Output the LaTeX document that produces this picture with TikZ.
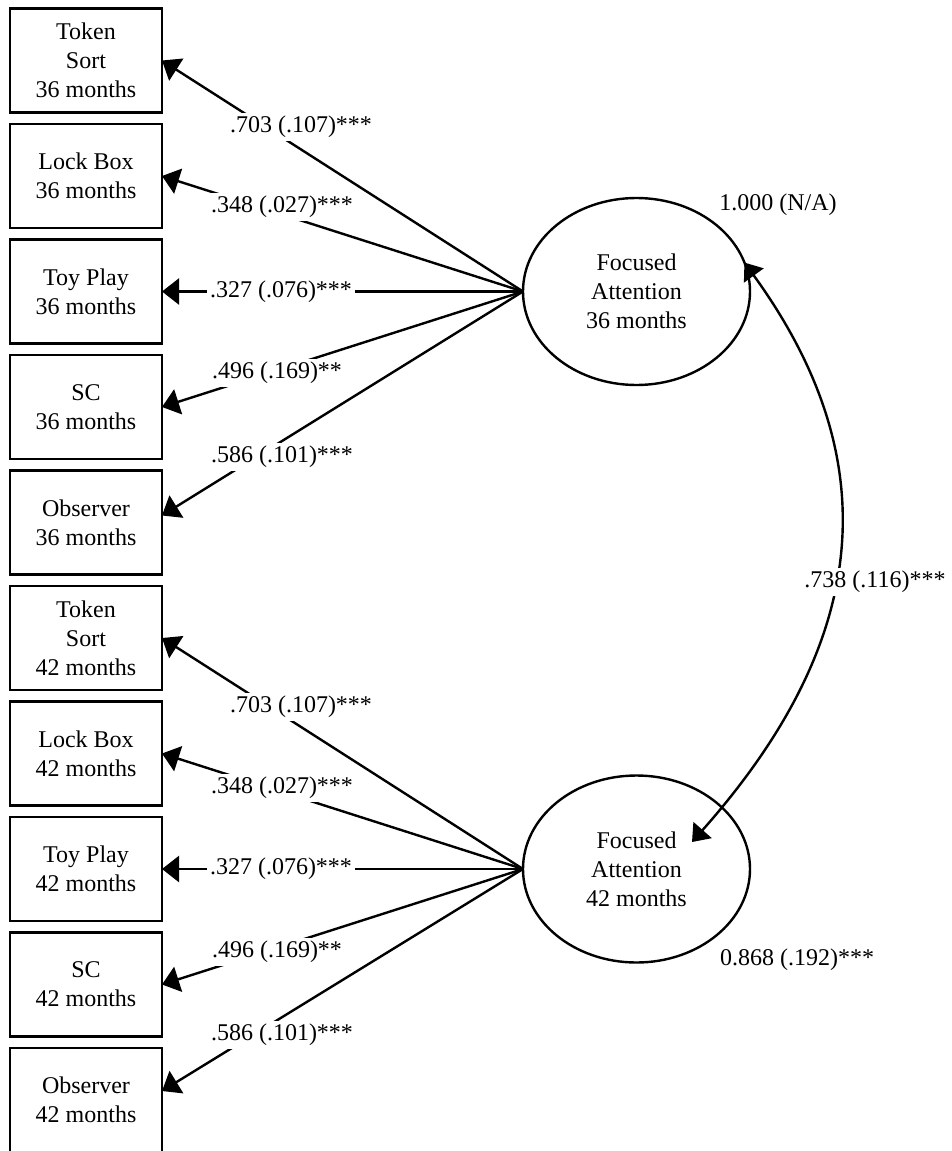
\documentclass[tikz,border=0pt]{standalone}
\usepackage{fontspec}
\setmainfont{Liberation Serif}
\usetikzlibrary{arrows.meta,shapes.geometric}

\begin{document}
\begin{tikzpicture}[x=0.5pt,y=-0.5pt,line width=1.2pt,
  font=\fontsize{12}{14.5}\selectfont,
  obs/.style={draw,rectangle,minimum width=76pt,minimum height=52pt,align=center,inner sep=0pt,outer sep=0pt},
  lat/.style={draw,ellipse,minimum width=113.5pt,minimum height=93.5pt,align=center,inner sep=0pt,outer sep=0pt},
  lbl/.style={fill=white,inner sep=1.5pt},
  load/.style={-{Triangle[length=8.5pt,width=13pt]}},
  cov/.style={{Triangle[length=8pt,width=12pt]}-{Triangle[length=8pt,width=12pt]}}]
  \useasboundingbox (0,0) rectangle (952,1151);
  \node[obs] (ts36) at (86,60.5) {Token\\Sort\\36 months};
  \node[obs] (lb36) at (86,176) {Lock Box\\36 months};
  \node[obs] (tp36) at (86,291.5) {Toy Play\\36 months};
  \node[obs] (sc36) at (86,407) {SC\\36 months};
  \node[obs] (ob36) at (86,522.5) {Observer\\36 months};
  \node[obs] (ts42) at (86,638) {Token\\Sort\\42 months};
  \node[obs] (lb42) at (86,753.5) {Lock Box\\42 months};
  \node[obs] (tp42) at (86,869) {Toy Play\\42 months};
  \node[obs] (sc42) at (86,984.5) {SC\\42 months};
  \node[obs] (ob42) at (86,1100) {Observer\\42 months};
  \node[lat] (fa36) at (636.5,291.5) {Focused\\Attention\\36 months};
  \node[lat] (fa42) at (636.5,869) {Focused\\Attention\\42 months};
  \draw[load] (fa36.west) -- (ts36.east);
  \draw[load] (fa36.west) -- (lb36.east);
  \draw[load] (fa36.west) -- (tp36.east);
  \draw[load] (fa36.west) -- (sc36.east);
  \draw[load] (fa36.west) -- ([yshift=3.5pt]ob36.east);
  \draw[load] (fa42.west) -- (ts42.east);
  \draw[load] (fa42.west) -- (lb42.east);
  \draw[load] (fa42.west) -- (tp42.east);
  \draw[load] (fa42.west) -- (sc42.east);
  \draw[load] (fa42.west) -- ([yshift=4.5pt]ob42.east);
  \node[lbl] (w1a) at (301,127) {.703 (.107)***};
  \node[lbl] (w2a) at (282,207) {.348 (.027)***};
  \node[lbl] (w3a) at (281,291.5) {.327 (.076)***};
  \node[lbl] (w4a) at (277,373) {.496 (.169)**};
  \node[lbl] (w5a) at (282,457) {.586 (.101)***};
  \node[lbl] (w1b) at (301,707) {.703 (.107)***};
  \node[lbl] (w2b) at (282,788) {.348 (.027)***};
  \node[lbl] (w3b) at (281,869) {.327 (.076)***};
  \node[lbl] (w4b) at (277,952) {.496 (.169)**};
  \node[lbl] (w5b) at (282,1035) {.586 (.101)***};
  \coordinate (tip42) at ([xshift=27.75pt,yshift=13.5pt]fa42.center);
  \draw[cov] (fa36.15) .. controls +(150,207) and +(170,-192) .. (tip42);
  \node[lbl] (r) at (875,582) {.738 (.116)***};
  \node (v36) at (778,205) {1.000 (N/A)};
  \node (v42) at (797,960) {0.868 (.192)***};
\end{tikzpicture}
\end{document}
